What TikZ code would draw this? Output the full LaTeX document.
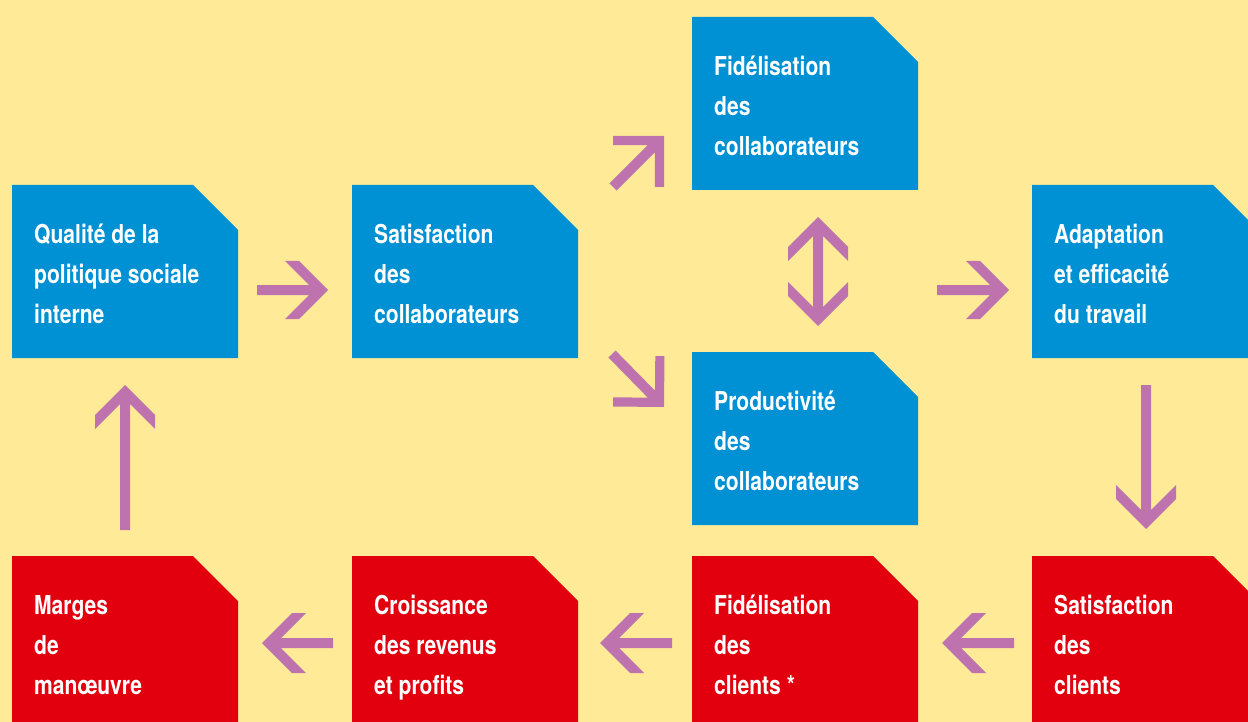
\documentclass[tikz,border=0pt]{standalone}
\usepackage{fontspec}
\newfontfamily\lblfamily[FakeStretch=0.81]{TeX Gyre Heros}
\usetikzlibrary{calc}
\definecolor{bgyellow}{HTML}{FFEB97}
\definecolor{boxblue}{HTML}{0090D4}
\definecolor{boxred}{HTML}{E2000F}
\definecolor{arrowc}{HTML}{BE73AE}
\tikzset{
  boxn/.style={anchor=north west, minimum width=226pt, minimum height=173pt, inner sep=0pt, outer sep=0pt},
  lbl/.style={anchor=north west, inner sep=0pt, align=left, text=white,
    font=\lblfamily\bfseries\fontsize{26}{40}\selectfont},
  chevfill/.style={fill=arrowc}
}
\newcommand\chamferfill[2]{%
  \fill[#2] (#1.north west) -- ([xshift=-45pt]#1.north east) -- ([yshift=-45pt]#1.north east)
    -- (#1.south east) -- (#1.south west) -- cycle;}
\newcommand\boxlabel[2]{%
  \node[lbl] (#1-t) at ([shift={(22,36)}]#1.north west) {\rule{0pt}{22pt}#2};}
\newcommand\chevsetup[2]{%
  \path let \p1=($(#2)-(#1)$) in \pgfextra{%
    \pgfmathsetmacro\chang{atan2(\y1,\x1)}%
    \pgfmathsetmacro\chlen{veclen(\x1,\y1)}%
    \global\let\chang\chang\global\let\chlen\chlen};}
% chevron arrow from tail #1 to tip #2, head half-size #3, arm cut #4 (cut parallel to shaft)
\newcommand\chev[4]{%
  \chevsetup{#1}{#2}
  \begin{scope}[shift={(#2)},rotate=\chang]
    \fill[chevfill] (0,0) -- (-#3,#3) -- ({-#3-#4},#3) -- ({-5-#4},5) -- (-\chlen,5)
      -- (-\chlen,-5) -- ({-5-#4},-5) -- ({-#3-#4},-#3) -- (-#3,-#3) -- cycle;
  \end{scope}}
% same, with arm ends cut square to the arms
\newcommand\chevp[4]{%
  \chevsetup{#1}{#2}
  \begin{scope}[shift={(#2)},rotate=\chang]
    \fill[chevfill] (0,0) -- (-#3,#3) -- ({-#3-#4/2},{#3-#4/2}) -- ({-5-#4},5) -- (-\chlen,5)
      -- (-\chlen,-5) -- ({-5-#4},-5) -- ({-#3-#4/2},{-#3+#4/2}) -- (-#3,-#3) -- cycle;
  \end{scope}}
\begin{document}
\begin{tikzpicture}[x=1pt,y=-1pt]
\useasboundingbox (0,0) rectangle (1248,722);
\clip (0,0) rectangle (1248,722);
\fill[bgyellow] (0,0) rectangle (1248,722);

% boxes
\node[boxn] (q)   at (12,185)   {};
\node[boxn] (s)   at (352,185)  {};
\node[boxn] (fc)  at (692,17)   {};
\node[boxn] (p)   at (692,352)  {};
\node[boxn] (a)   at (1032,185) {};
\node[boxn] (sc)  at (1032,556) {};
\node[boxn] (fcl) at (692,556)  {};
\node[boxn] (cr)  at (352,556)  {};
\node[boxn] (m)   at (12,556)   {};

\chamferfill{q}{boxblue}
\chamferfill{s}{boxblue}
\chamferfill{fc}{boxblue}
\chamferfill{p}{boxblue}
\chamferfill{a}{boxblue}
\chamferfill{sc}{boxred}
\chamferfill{fcl}{boxred}
\chamferfill{cr}{boxred}
\chamferfill{m}{boxred}

\boxlabel{q}{Qualité de la\\politique sociale\\interne}
\boxlabel{s}{Satisfaction\\des\\collaborateurs}
\boxlabel{fc}{Fidélisation\\des\\collaborateurs}
\boxlabel{p}{Productivité\\des\\collaborateurs}
\boxlabel{a}{Adaptation\\et efficacité\\du travail}
\boxlabel{sc}{Satisfaction\\des\\clients}
\boxlabel{fcl}{Fidélisation\\des\\clients *}
\boxlabel{cr}{Croissance\\des revenus\\et profits}
\boxlabel{m}{Marges\\de\\manœuvre}

% arrow end points
\coordinate (a1a) at (257,290);  \coordinate (a1b) at (328,290);
\coordinate (a2a) at (613,187);  \coordinate (a2b) at (664,136);
\coordinate (a3a) at (612,354);  \coordinate (a3b) at (664,407);
\coordinate (a4m) at (818,271);  \coordinate (a4u) at (818,217); \coordinate (a4d) at (818,326);
\coordinate (a5a) at (937,290);  \coordinate (a5b) at (1009,290);
\coordinate (a6a) at (1146,385); \coordinate (a6b) at (1146,529);
\coordinate (a7a) at (1014,643); \coordinate (a7b) at (942,643);
\coordinate (a8a) at (672,643);  \coordinate (a8b) at (600,643);
\coordinate (a9a) at (333,643);  \coordinate (a9b) at (262,643);
\coordinate (a10a) at (125,530); \coordinate (a10b) at (125,385);

\chev{a1a}{a1b}{29}{14}
\chevp{a2a}{a2b}{36}{13}
\chevp{a3a}{a3b}{36}{13}
\chev{a4m}{a4u}{30}{14}
\chev{a4m}{a4d}{30}{14}
\chev{a5a}{a5b}{29}{14}
\chev{a6a}{a6b}{30}{14}
\chev{a7a}{a7b}{30}{14}
\chev{a8a}{a8b}{30}{14}
\chev{a9a}{a9b}{30}{14}
\chev{a10a}{a10b}{30}{14}
\end{tikzpicture}
\end{document}
